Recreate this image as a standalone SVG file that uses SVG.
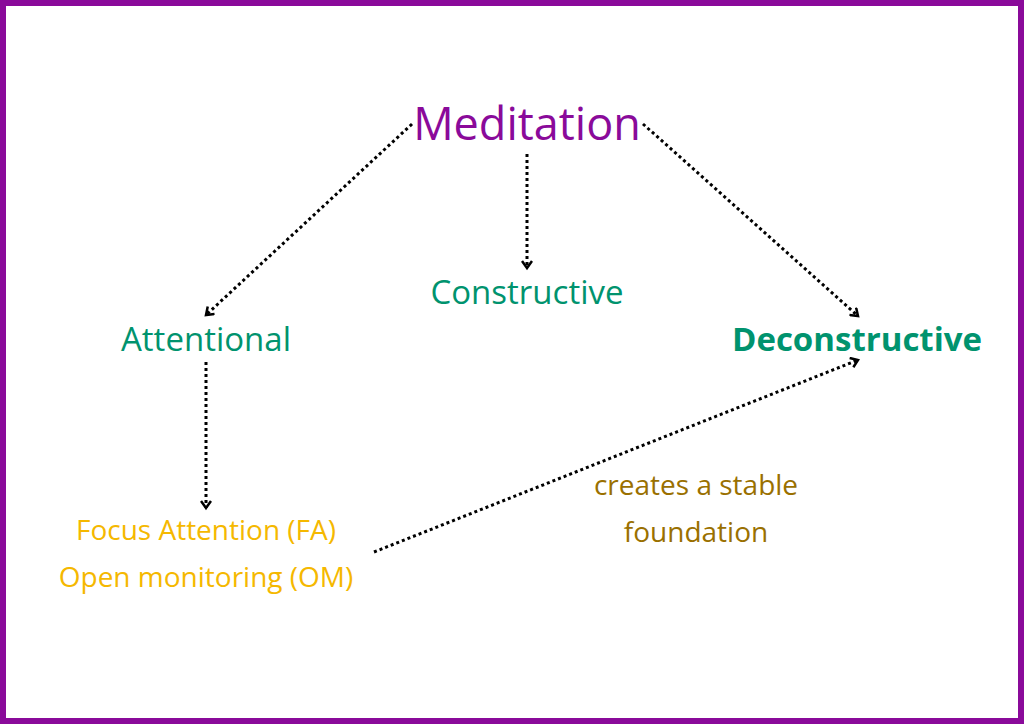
<svg xmlns="http://www.w3.org/2000/svg" width="1024" height="724" viewBox="0 0 1024 724">
<defs>
<marker id="ah" markerWidth="12" markerHeight="12" refX="9" refY="6" orient="auto" markerUnits="userSpaceOnUse">
<path d="M2,1 L9,6 L2,11" fill="none" stroke="#000" stroke-width="2.5"/>
</marker>
<style>
text{font-family:"Open Sans","Noto Sans",sans-serif;text-anchor:middle}
.c{stroke:#000;stroke-width:3;stroke-dasharray:3 3;fill:none;marker-end:url(#ah)}
.g{fill:#00936E;font-size:33px}
.y{fill:#F5B800;font-size:28px}
.b{fill:#9A7000;font-size:28px}
</style>
</defs>
<rect x="3" y="3" width="1018" height="718" fill="#fff" stroke="#8A0A9A" stroke-width="6"/>
<g id="connectors">
<line class="c" x1="412" y1="124" x2="206" y2="315"/>
<line class="c" x1="527" y1="154" x2="527" y2="268"/>
<line class="c" x1="643" y1="124" x2="858" y2="316"/>
<line class="c" x1="206" y1="362" x2="206" y2="508"/>
<line class="c" x1="374" y1="552" x2="858" y2="360"/>
</g>
<g id="meditation"><text x="527" y="140" fill="#8A0A9A" font-size="45">Meditation</text></g>
<g id="constructive"><text class="g" x="527" y="304">Constructive</text></g>
<g id="attentional"><text class="g" x="206" y="351">Attentional</text></g>
<g id="deconstructive"><text class="g" x="857" y="351" font-weight="bold">Deconstructive</text></g>
<g id="fa-om"><text class="y" x="206" y="540">Focus Attention (FA)</text><text class="y" x="206" y="587">Open monitoring (OM)</text></g>
<g id="label"><text class="b" x="696" y="495">creates a stable</text><text class="b" x="696" y="542">foundation</text></g>
</svg>
